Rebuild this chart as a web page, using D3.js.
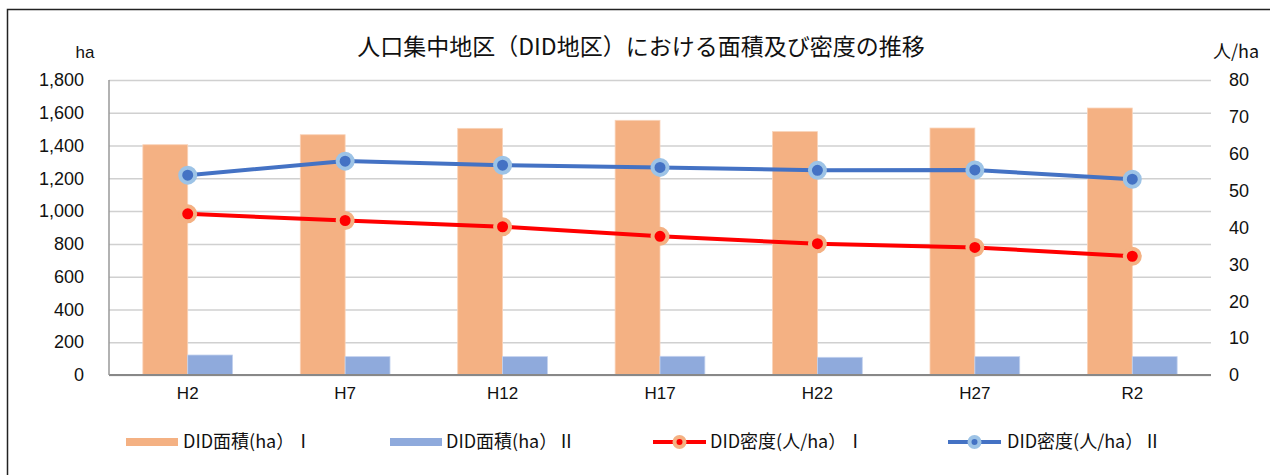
<!DOCTYPE html>
<html><head><meta charset="utf-8">
<script src="https://cdn.jsdelivr.net/npm/d3@7"></script>
<style>
html,body{margin:0;padding:0;background:#fff;}
svg{display:block;}
text{font-family:"Liberation Sans","Noto Sans CJK JP",sans-serif;fill:#111;}
.jp{font-family:"Noto Sans CJK JP","Liberation Sans",sans-serif;}
</style></head>
<body>
<svg id="c" width="1270" height="475"></svg>
<script>
const categories = ["H2","H7","H12","H17","H22","H27","R2"];
const areaI = [1405, 1466, 1505, 1554, 1485, 1507, 1629];
const areaII = [122, 112, 112, 114, 108, 112, 112];
const densI = [43.7, 41.9, 40.2, 37.6, 35.6, 34.6, 32.2];
const densII = [54.2, 58.0, 56.9, 56.3, 55.5, 55.6, 53.1];
const leftTicks = [0,200,400,600,800,1000,1200,1400,1600,1800];
const rightTicks = [0,10,20,30,40,50,60,70,80];
const seriesNames = ["DID面積(ha）Ⅰ","DID面積(ha）Ⅱ","DID密度(人/ha）Ⅰ","DID密度(人/ha）Ⅱ"];
const titleText = "人口集中地区（DID地区）における面積及び密度の推移";

const svg = d3.select("#c");
const L = 109, R = 1211, T = 80, B = 375;

// frame
svg.append("rect").attr("x",7.5).attr("y",9.5).attr("width",1300).attr("height",500)
  .attr("fill","none").attr("stroke","#222").attr("stroke-width",1.5);

const x0 = d3.scaleBand().domain(categories).range([L,R]).paddingInner(0.43).paddingOuter(0.215);
const x1 = d3.scaleBand().domain(["I","II"]).range([0,x0.bandwidth()]);
const yL = d3.scaleLinear().domain([0,1800]).range([B,T]);
const yR = d3.scaleLinear().domain([0,80]).range([B,T]);

// gridlines
const grid = svg.append("g").call(d3.axisLeft(yL).tickValues(leftTicks).tickSize(-(R-L)).tickFormat(""))
  .attr("transform",`translate(${L},0)`);
grid.select(".domain").remove();
grid.selectAll("line").attr("stroke","#d0d0d0").attr("stroke-width",1.5);

// left axis labels
const la = svg.append("g").attr("transform",`translate(${L},0)`)
  .call(d3.axisLeft(yL).tickValues(leftTicks).tickSize(0).tickPadding(25).tickFormat(d3.format(",")));
la.select(".domain").remove();
la.selectAll("text").attr("font-size",18).attr("font-family","Liberation Sans").attr("fill","#111");

// right axis labels
const ra = svg.append("g").attr("transform",`translate(${R},0)`)
  .call(d3.axisRight(yR).tickValues(rightTicks).tickSize(0).tickPadding(18));
ra.select(".domain").remove();
ra.selectAll("text").attr("font-size",18).attr("font-family","Liberation Sans").attr("fill","#111");

// bars
const g = svg.append("g");
categories.forEach((c,i)=>{
  g.append("rect").attr("x",x0(c)+x1("I")).attr("width",x1.bandwidth())
    .attr("y",yL(areaI[i])).attr("height",yL(0)-yL(areaI[i])).attr("fill","#F4B183")
    .attr("stroke","#f9d3b8").attr("stroke-width",0.8);
  g.append("rect").attr("x",x0(c)+x1("II")).attr("width",x1.bandwidth())
    .attr("y",yL(areaII[i])).attr("height",yL(0)-yL(areaII[i])).attr("fill","#8FAADC")
    .attr("stroke","#c3d2ee").attr("stroke-width",0.8);
});

// axes lines
svg.append("line").attr("x1",L).attr("x2",R).attr("y1",B).attr("y2",B).attr("stroke","#888").attr("stroke-width",2);
svg.append("line").attr("x1",L).attr("x2",L).attr("y1",T).attr("y2",B).attr("stroke","#999").attr("stroke-width",1.5);

// x labels
const xa = svg.append("g").attr("transform",`translate(0,${B})`)
  .call(d3.axisBottom(x0).tickSize(0).tickPadding(12));
xa.select(".domain").remove();
xa.selectAll("text").attr("font-size",17).attr("font-family","Liberation Sans Narrow, Liberation Sans").attr("fill","#111");

// lines
const cx = c => x0(c)+x0.bandwidth()/2;
function drawLine(vals, col, halo){
  const line = d3.line().x((d,i)=>cx(categories[i])).y(d=>yR(d));
  svg.append("path").datum(vals).attr("d",line).attr("fill","none").attr("stroke",col).attr("stroke-width",4);
  svg.append("g").selectAll("circle").data(vals).join("circle")
    .attr("cx",(d,i)=>cx(categories[i])).attr("cy",d=>yR(d)).attr("r",7.5)
    .attr("fill",col).attr("stroke",halo).attr("stroke-width",4);
}
drawLine(densI,"#FF0000","#F4B183");
drawLine(densII,"#4472C4","#9DC3E6");

// title & unit labels
svg.append("text").attr("class","jp").attr("x",641).attr("y",55).attr("text-anchor","middle")
  .attr("font-size",23).text(titleText);
svg.append("text").attr("x",85).attr("y",58).attr("text-anchor","middle").attr("font-size",17).text("ha");
svg.append("text").attr("class","jp").attr("x",1236).attr("y",58).attr("text-anchor","middle").attr("font-size",18).text("人/ha");

// legend
const ly = 442;
const leg = svg.append("g");
[[126,"#F4B183",seriesNames[0],183],[390,"#8FAADC",seriesNames[1],446]].forEach(([sx,col,name,tx])=>{
  leg.append("rect").attr("x",sx).attr("y",ly-4).attr("width",52).attr("height",8).attr("fill",col);
  leg.append("text").attr("class","jp").attr("x",tx).attr("y",ly+6).attr("font-size",18).text(name);
});
[[653,"#FF0000","#F4B183",seriesNames[2],710],[948,"#4472C4","#9DC3E6",seriesNames[3],1007]].forEach(([sx,col,halo,name,tx])=>{
  leg.append("line").attr("x1",sx).attr("x2",sx+53).attr("y1",ly).attr("y2",ly).attr("stroke",col).attr("stroke-width",4);
  leg.append("circle").attr("cx",sx+26.5).attr("cy",ly).attr("r",5).attr("fill",col).attr("stroke",halo).attr("stroke-width",4);
  leg.append("text").attr("class","jp").attr("x",tx).attr("y",ly+6).attr("font-size",18).text(name);
});
</script>
</body></html>
